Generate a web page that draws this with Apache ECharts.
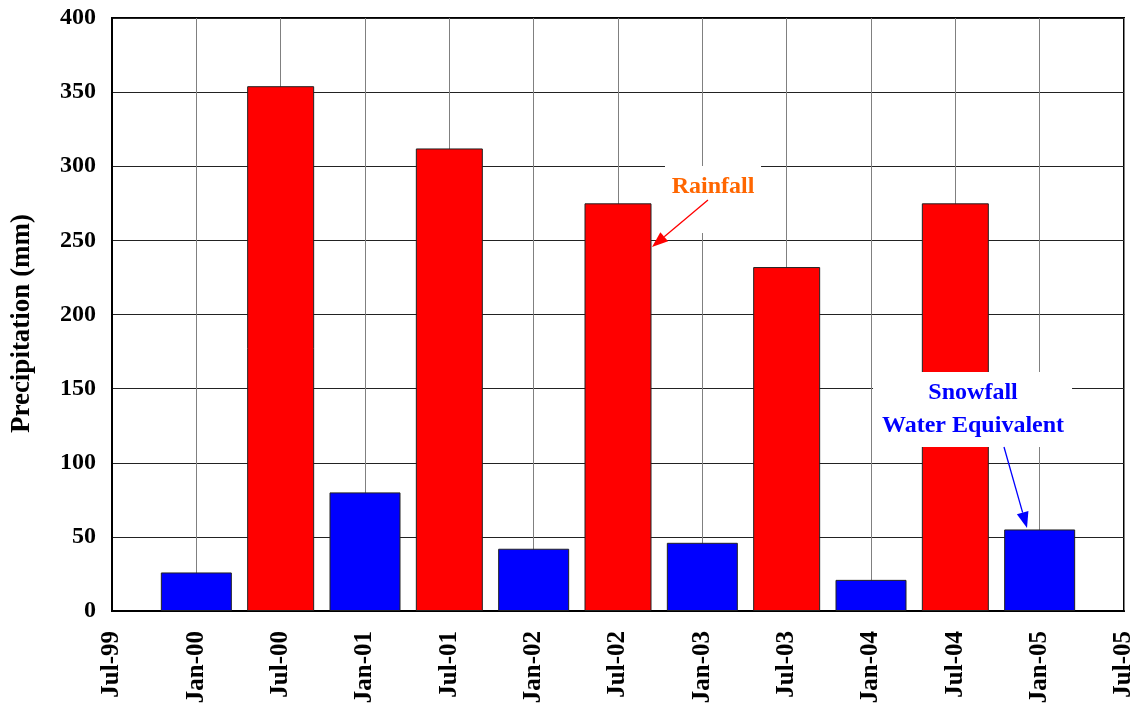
<!DOCTYPE html>
<html>
<head>
<meta charset="utf-8">
<script src="https://cdn.jsdelivr.net/npm/echarts@6/dist/echarts.min.js"></script>
<style>
html,body{margin:0;padding:0;background:#fff;}
#main{width:1140px;height:709px;}
</style>
</head>
<body>
<div id="main"></div>
<script>
// ---- data ----
const xTickLabels = ['Jul-99','Jan-00','Jul-00','Jan-01','Jul-01','Jan-02','Jul-02','Jan-03','Jul-03','Jan-04','Jul-04','Jan-05','Jul-05'];
const snowfallDates = ['Jan-00','Jan-01','Jan-02','Jan-03','Jan-04','Jan-05'];
const snowfallValues = [26, 80, 42, 46, 21, 55];
const rainfallDates = ['Jul-00','Jul-01','Jul-02','Jul-03','Jul-04'];
const rainfallValues = [354, 312, 275, 232, 275];
const yTicks = [0, 50, 100, 150, 200, 250, 300, 350, 400];

const FONT = 'Liberation Serif';
const chart = echarts.init(document.getElementById('main'), null, {renderer: 'canvas'});

const toPairs = (dates, vals) => dates.map((d, i) => [xTickLabels.indexOf(d), vals[i]]);

const xBase = {
  type: 'value', min: 0, max: xTickLabels.length - 1, interval: 1
};

const option = {
  animation: false,
  backgroundColor: '#fff',
  grid: {left: 112, right: 16, top: 18, bottom: 98, show: true, borderColor: '#000', borderWidth: 2, backgroundColor: 'transparent'},
  xAxis: [
    Object.assign({}, xBase, {
      axisLine: {show: true, onZero: false, lineStyle: {color: '#000', width: 2}},
      axisTick: {show: false},
      splitLine: {show: true, lineStyle: {color: '#808080', width: 1}},
      axisLabel: {
        rotate: 90, margin: 20, color: '#000',
        fontFamily: FONT, fontWeight: 'bold', fontSize: 25,
        formatter: v => xTickLabels[v] || ''
      }
    }),
    Object.assign({}, xBase, {show: false})
  ],
  yAxis: {
    type: 'value', min: yTicks[0], max: yTicks[yTicks.length - 1], interval: 50,
    axisLine: {show: true, lineStyle: {color: '#000', width: 2}},
    axisTick: {show: false},
    splitLine: {show: true, lineStyle: {color: '#222', width: 1}},
    axisLabel: {margin: 16, color: '#000', fontFamily: FONT, fontWeight: 'bold', fontSize: 24},
    name: 'Precipitation (mm)', nameLocation: 'middle', nameGap: 76, nameRotate: 90,
    nameTextStyle: {color: '#000', fontFamily: FONT, fontWeight: 'bold', fontSize: 27, padding: [0, 18, 0, 0]}
  },
  series: [
    {
      name: 'Snowfall Water Equivalent', type: 'bar', xAxisIndex: 1,
      barWidth: 71,
      itemStyle: {color: '#0000ff', borderColor: '#222', borderWidth: 1},
      data: toPairs(snowfallDates, snowfallValues)
    },
    {
      name: 'Rainfall', type: 'bar', xAxisIndex: 0,
      barWidth: 67,
      itemStyle: {color: '#ff0000', borderColor: '#222', borderWidth: 1},
      data: toPairs(rainfallDates, rainfallValues)
    }
  ]
};
chart.setOption(option);

function px(x, y) { return chart.convertToPixel({gridIndex: 0}, [x, y]); }

function arrow(from, to, color) {
  const a = px(from[0], from[1]), b = px(to[0], to[1]);
  const dx = b[0] - a[0], dy = b[1] - a[1];
  const len = Math.sqrt(dx * dx + dy * dy);
  const ux = dx / len, uy = dy / len;
  const hl = 16, hw = 6;
  const base = [b[0] - ux * hl, b[1] - uy * hl];
  const p1 = [base[0] - uy * hw, base[1] + ux * hw];
  const p2 = [base[0] + uy * hw, base[1] - ux * hw];
  return [
    {type: 'line', z: 110, shape: {x1: a[0], y1: a[1], x2: base[0], y2: base[1]}, style: {stroke: color, lineWidth: 1.3}},
    {type: 'polygon', z: 110, shape: {points: [b, p1, p2]}, style: {fill: color}}
  ];
}

function box(x0, y0, x1, y1) {
  const a = px(x0, y0), b = px(x1, y1);
  return {type: 'rect', z: 100, shape: {x: Math.min(a[0], b[0]), y: Math.min(a[1], b[1]), width: Math.abs(b[0] - a[0]), height: Math.abs(b[1] - a[1])}, style: {fill: '#fff'}};
}

function label(x, y, text, color) {
  const p = px(x, y);
  return {type: 'text', z: 120, x: p[0], y: p[1], style: {text: text, fill: color, font: 'bold 24px "' + FONT + '"', align: 'center', verticalAlign: 'middle'}};
}

const graphics = [].concat(
  [box(6.557, 300.2, 7.696, 255)],
  arrow([7.067, 277.2], [6.403, 245.5], '#ff0000'),
  [label(7.127, 286, 'Rainfall', '#ff6600')],
  [box(9.024, 161.2, 11.384, 110.6)],
  arrow([10.577, 110.6], [10.85, 56], '#0000ff'),
  [label(10.21, 147.4, 'Snowfall', '#0000ff'), label(10.21, 125.1, 'Water Equivalent', '#0000ff')]
);
chart.setOption({graphic: graphics});
</script>
</body>
</html>
